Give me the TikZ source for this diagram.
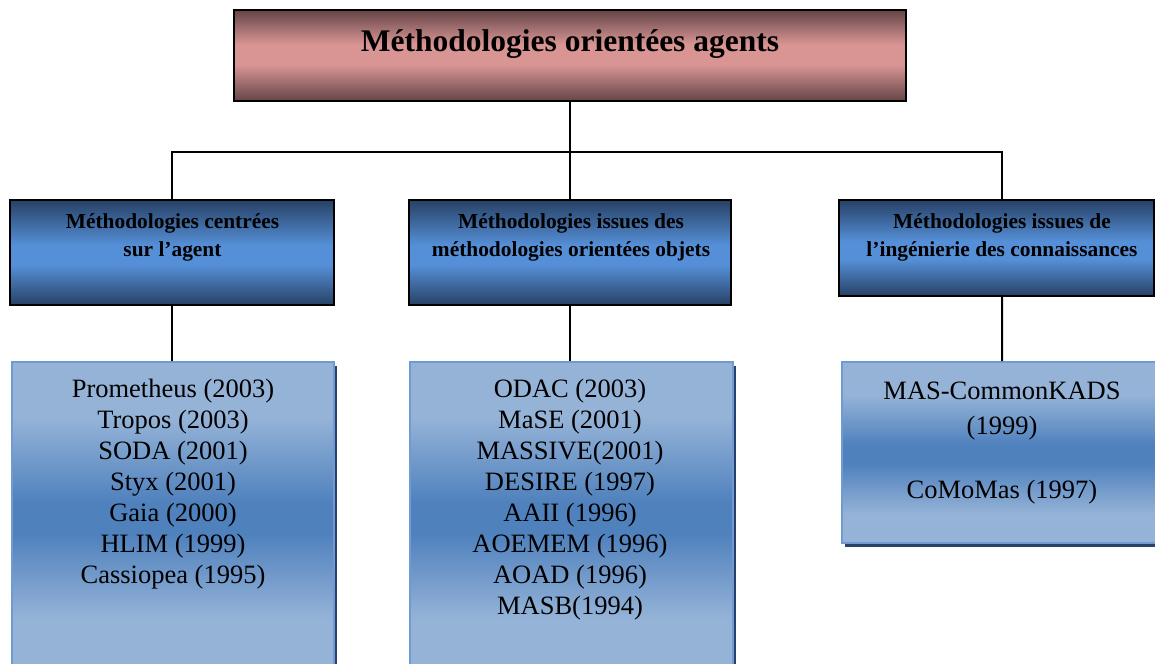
\documentclass[tikz,border=0pt]{standalone}
\usepackage{fontspec}
\setmainfont{Liberation Serif}
\usetikzlibrary{shadows}

% palette
\definecolor{rosedark}{HTML}{654547}
\definecolor{roselight}{HTML}{D99594}
\definecolor{bluedark}{HTML}{284368}
\definecolor{bluemid}{HTML}{558FD7}
\definecolor{listlight}{HTML}{95B3D7}
\definecolor{listdark}{HTML}{4F81BD}
\definecolor{listedge}{HTML}{6F9AD3}
\definecolor{shadowblue}{HTML}{27416A}

% banded vertical gradients (bottom to top; the path spans 25bp..75bp)
\pgfdeclareverticalshading{titleshade}{100bp}{%
  color(0bp)=(rosedark); color(25bp)=(rosedark); color(45bp)=(roselight);
  color(56bp)=(roselight); color(75bp)=(rosedark); color(100bp)=(rosedark)}
\pgfdeclareverticalshading{groupshade}{100bp}{%
  color(0bp)=(bluedark); color(25.5bp)=(bluedark); color(44bp)=(bluemid);
  color(53.5bp)=(bluemid); color(74.5bp)=(bluedark); color(100bp)=(bluedark)}
\pgfdeclareverticalshading{listshade}{100bp}{%
  color(0bp)=(listlight); color(33bp)=(listlight); color(47bp)=(listdark);
  color(52bp)=(listdark); color(66bp)=(listlight); color(100bp)=(listlight)}

\begin{document}
\begin{tikzpicture}[x=1bp,y=-1bp,
  titlebox/.style={draw=black, line width=2bp, shade, shading=titleshade,
    minimum width=672bp, minimum height=91bp, inner sep=0pt},
  groupbox/.style={draw=black, line width=2bp, shade, shading=groupshade,
    minimum height=105bp, inner sep=0pt},
  listbox/.style={draw=listedge, line width=1.6bp, shade, shading=listshade,
    inner sep=0pt,
    drop shadow={shadow xshift=3bp, shadow yshift=-4bp, fill=shadowblue, opacity=1}},
  titletext/.style={anchor=base, inner sep=0pt,
    font=\bfseries\fontsize{31.5bp}{36bp}\selectfont},
  grouptext/.style={anchor=base, inner sep=0pt,
    font=\bfseries\fontsize{21.4bp}{27bp}\selectfont},
  listtext/.style={anchor=base, inner sep=0pt,
    font=\fontsize{26.5bp}{31bp}\selectfont},
  link/.style={draw=black, line width=2bp}
]
\useasboundingbox (0,0) rectangle (1155,664);
\begin{scope}
\clip (0,0) rectangle (1155,664);

% boxes
\node[titlebox] (top) at (570,55.5) {};
\node[groupbox, minimum width=324bp] (m1) at (172,252.5) {};
\node[groupbox, minimum width=322bp] (m2) at (570,252.5) {};
\node[groupbox, minimum width=315bp, minimum height=96bp] (m3) at (996,248) {};
\node[listbox, minimum width=322bp, minimum height=306bp] (l1) at (173,515) {};
\node[listbox, minimum width=323bp, minimum height=306bp] (l2) at (571.5,515) {};
\node[listbox, minimum width=320bp, minimum height=181bp] (l3) at (1002,452.5) {};

% connectors
\coordinate (bus) at (570,152);
\draw[link] (top.south) -- (top.south |- m2.north);
\draw[link] (m1.north) -- (m1.north |- bus)
  -- ([xshift=6bp]m3.north |- bus) -- ([xshift=6bp]m3.north);
\draw[link] (m1.south) -- (m1.south |- l1.north);
\draw[link] (m2.south) -- (m2.south |- l2.north);
\draw[link] ([xshift=6bp]m3.south) -- (l3.north);

% texts
\node[titletext] (tt) at (570,52) {Méthodologies orientées agents};
\node[grouptext] (m1t) at (172.5,229)
  {\begin{tabular}[t]{@{}c@{}}Méthodologies centrées\\ sur l’agent\end{tabular}};
\node[grouptext] (m2t) at (571,229)
  {\begin{tabular}[t]{@{}c@{}}Méthodologies issues des\\ méthodologies orientées objets\end{tabular}};
\node[grouptext] (m3t) at (1002,229)
  {\begin{tabular}[t]{@{}c@{}}Méthodologies issues de\\ l’ingénierie des connaissances\end{tabular}};
\node[listtext] (l1t) at (173,397)
  {\begin{tabular}[t]{@{}c@{}}Prometheus (2003)\\ Tropos (2003)\\ SODA (2001)\\
   Styx (2001)\\ Gaia (2000)\\ HLIM (1999)\\ Cassiopea (1995)\end{tabular}};
\node[listtext] (l2t) at (570,397)
  {\begin{tabular}[t]{@{}c@{}}ODAC (2003)\\ MaSE (2001)\\ MASSIVE(2001)\\
   DESIRE (1997)\\ AAII (1996)\\ AOEMEM (1996)\\ AOAD (1996)\\ MASB(1994)\end{tabular}};
\node[listtext, font=\fontsize{26.5bp}{32bp}\selectfont] (l3t) at (1002,399)
  {\begin{tabular}[t]{@{}c@{}}MAS-CommonKADS\\[3bp] (1999)\\ \\ CoMoMas (1997)\end{tabular}};
\end{scope}
\end{tikzpicture}
\end{document}
